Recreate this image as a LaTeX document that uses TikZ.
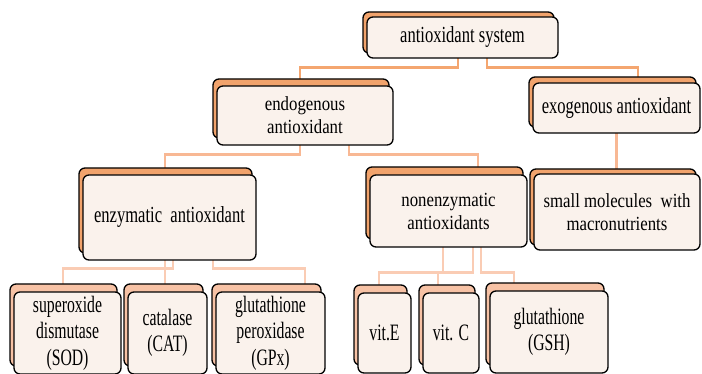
\documentclass[tikz,border=0pt]{standalone}
\usepackage{fontspec}
\setmainfont{Liberation Serif}
\newfontfamily\fontTop{Liberation Serif}[FakeStretch=0.72]
\newfontfamily\fontMid{Liberation Serif}[FakeStretch=0.84]
\newfontfamily\fontLow{Liberation Serif}[FakeStretch=0.67]
\usepackage{tikz}
\usetikzlibrary{calc,positioning,shadows,backgrounds}

\definecolor{cardback}{RGB}{241,163,108}
\definecolor{cardbackl}{RGB}{247,194,165}
\definecolor{cardfront}{RGB}{250,242,236}
\definecolor{linktop}{RGB}{244,166,112}
\definecolor{linkmid}{RGB}{248,184,148}
\definecolor{linklow}{RGB}{250,204,180}

\begin{document}
\begin{tikzpicture}[
    x=1pt, y=-1pt,
    every node/.style={align=center},
    card/.style={draw=black, line width=1.3pt, rounded corners=6pt,
        fill=cardfront, inner sep=0pt,
        font=\fontTop\fontsize{23}{27}\selectfont,
        copy shadow={shadow xshift=-4pt, shadow yshift=#1,
            fill=cardback, draw=black, line width=1.3pt}},
    card/.default=6pt,
    midtext/.style={font=\fontMid\fontsize{20}{23}\selectfont},
    lowcard/.style={draw=black, line width=1.3pt, rounded corners=6pt,
        fill=cardfront, inner sep=0pt,
        font=\fontLow\fontsize{23.5}{26.5}\selectfont,
        copy shadow={shadow xshift=-4pt, shadow yshift=8pt,
            fill=cardbackl, draw=black, line width=1.3pt}},
    link/.style={line width=2.6pt, line cap=rect}
]
\useasboundingbox (0,0) rectangle (702,374);

% Top level
\node[card=5pt, minimum width=191pt, minimum height=41pt] (root) at (462.5,37.5)
    {antioxidant system};

% Second level
\node[card=7pt, midtext, minimum width=176pt, minimum height=59pt] (endo) at (305,115.5)
    {endogenous\\antioxidant};
\node[card=6pt, minimum width=167pt, minimum height=50pt] (exo) at (616.5,108)
    {exogenous antioxidant};

% Third level
\node[card=7pt, minimum width=173pt, minimum height=85pt] (enz) at (169.5,217.5)
    {enzymatic\ \ antioxidant};
\node[card=8pt, midtext, minimum width=157pt, minimum height=72pt] (nonenz) at (448.5,211)
    {nonenzymatic\\antioxidants};
\node[card=5pt, midtext, minimum width=166pt, minimum height=76pt] (small) at (617,212)
    {small molecules\ \ with\\macronutrients};

% Bottom level
\node[lowcard, minimum width=107pt, minimum height=82pt] (sod) at (67.5,333)
    {superoxide\\dismutase\\(SOD)};
\node[lowcard, minimum width=79pt, minimum height=82pt] (cat) at (167.5,333)
    {catalase\\(CAT)};
\node[lowcard, minimum width=109pt, minimum height=82pt] (gpx) at (270.5,333)
    {glutathione\\peroxidase\\(GPx)};
\node[lowcard, minimum width=53pt, minimum height=80pt] (vite) at (384.5,333)
    {vit.E};
\node[lowcard, minimum width=56pt, minimum height=80pt] (vitc) at (451,333)
    {vit. C};
\node[lowcard, minimum width=118pt, minimum height=82pt] (gsh) at (549,332)
    {glutathione\\(GSH)};

% Connectors
\begin{scope}[on background layer]
\draw[link, linktop] ([xshift=-4.5pt]root.south) -- ++(0,9)
    -| ([xshift=-5pt]endo.north);
\draw[link, linktop] ([xshift=24.5pt]root.south) -- ++(0,9)
    -| ([xshift=21.5pt]exo.north);

\draw[link, linkmid] ([xshift=-5pt]endo.south) -- ++(0,9)
    -| ([xshift=-4.5pt]enz.north);
\draw[link, linkmid] ([xshift=44pt]endo.south) -- ++(0,9)
    -| ([xshift=29.5pt]nonenz.north);
\draw[link, linkmid] (exo.south) -- (exo.south |- small.north);

\draw[link, linklow] ([xshift=3.5pt]enz.south) -- ++(0,8)
    -| ([xshift=-4.5pt]sod.north);
\draw[link, linklow] ([xshift=-4.5pt]enz.south)
    -- ([xshift=-4.5pt]enz.south |- cat.north);
\draw[link, linklow] ([xshift=43.5pt]enz.south) -- ++(0,8)
    -| ([xshift=34.5pt]gpx.north);

\draw[link, linklow] ([xshift=24.5pt]nonenz.south) -- ++(0,25)
    -| ([xshift=-5.5pt]vite.north);
\draw[link, linklow] ([xshift=-5.5pt]nonenz.south) -- ++(0,25)
    -| ([xshift=-13pt]vitc.north);
\draw[link, linklow] ([xshift=32.5pt]nonenz.south) -- ++(0,25)
    -| ([xshift=-35pt]gsh.north);
\end{scope}

\end{tikzpicture}
\end{document}
